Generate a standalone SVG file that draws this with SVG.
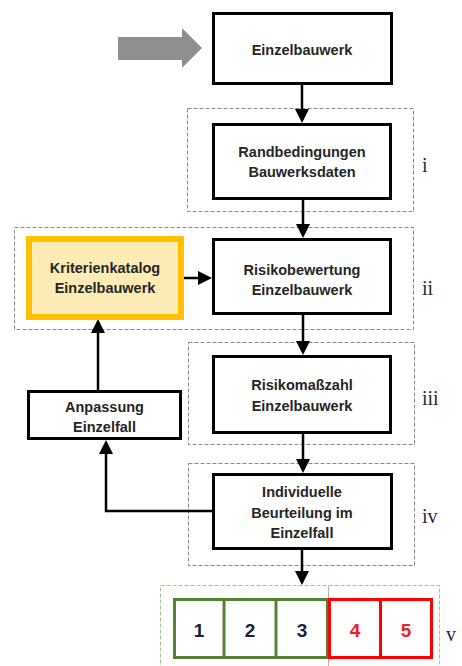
<svg xmlns="http://www.w3.org/2000/svg" width="462" height="666" viewBox="0 0 462 666">
<style>
.box{fill:#fff;stroke:#000;stroke-width:3}
.grp{fill:none;stroke:#8a8a8a;stroke-width:1;stroke-dasharray:4 2}
.t{font-family:"Liberation Sans",Arial,sans-serif;font-weight:bold;font-size:14.5px;fill:#262626;text-anchor:middle}
.num{font-family:"Liberation Sans",Arial,sans-serif;font-weight:bold;font-size:19px;text-anchor:middle}
.rom{font-family:"Liberation Serif","Times New Roman",serif;font-size:20px;fill:#2a2a3a}
.con{fill:none;stroke:#000;stroke-width:2.5}
</style>
<defs>
<marker id="ah" viewBox="0 0 14 14" refX="11" refY="7" markerWidth="14" markerHeight="14" markerUnits="userSpaceOnUse" orient="auto">
<path d="M0,0 L14,7 L0,14 z" fill="#000"/>
</marker>
</defs>
<g id="groups">
<rect class="grp" x="187.5" y="108.5" width="226" height="103"/>
<rect class="grp" x="14.5" y="227.5" width="399" height="102"/>
<rect class="grp" x="188.5" y="342.5" width="226" height="102"/>
<rect class="grp" x="188.5" y="463.5" width="226" height="102"/>
<rect x="160.5" y="585.5" width="168" height="90" fill="none" stroke="#a3c193" stroke-width="1" stroke-dasharray="4 2"/>
<rect x="328.5" y="585.5" width="111" height="90" fill="none" stroke="#f29a9a" stroke-width="1" stroke-dasharray="4 2"/>
</g>
<g id="input-arrow">
<polygon points="118,37 182,37 182,28 202,48 182,68 182,60 118,60" fill="#8f8f8f"/>
</g>
<g id="connectors">
<line class="con" x1="302" y1="85" x2="302" y2="120" marker-end="url(#ah)"/>
<line class="con" x1="303" y1="200" x2="303" y2="235" marker-end="url(#ah)"/>
<line class="con" x1="303" y1="315" x2="303" y2="352" marker-end="url(#ah)"/>
<line class="con" x1="303" y1="434" x2="303" y2="470" marker-end="url(#ah)"/>
<line class="con" x1="302" y1="550" x2="302" y2="582" marker-end="url(#ah)"/>
<line class="con" x1="184" y1="278" x2="209" y2="278" marker-end="url(#ah)"/>
<line class="con" x1="98" y1="390" x2="98" y2="322" marker-end="url(#ah)"/>
<polyline class="con" points="212,511 106,511 106,443" marker-end="url(#ah)"/>
</g>
<g id="einzelbauwerk">
<rect class="box" x="213.5" y="13.5" width="178" height="70"/>
<text class="t" x="302" y="55">Einzelbauwerk</text>
</g>
<g id="randbedingungen">
<rect class="box" x="213.5" y="124.5" width="177" height="74"/>
<text class="t" x="302" y="157">Randbedingungen</text>
<text class="t" x="302" y="177">Bauwerksdaten</text>
</g>
<g id="kriterienkatalog">
<rect x="29" y="239" width="152" height="78" fill="#fdebb5" stroke="#ffc000" stroke-width="6"/>
<text class="t" x="105" y="273">Kriterienkatalog</text>
<text class="t" x="105" y="293">Einzelbauwerk</text>
</g>
<g id="risikobewertung">
<rect class="box" x="213.5" y="239.5" width="177" height="74"/>
<text class="t" x="302" y="275">Risikobewertung</text>
<text class="t" x="302" y="295">Einzelbauwerk</text>
</g>
<g id="risikomasszahl">
<rect class="box" x="213.5" y="356.5" width="177" height="76"/>
<text class="t" x="302" y="390">Risikomaßzahl</text>
<text class="t" x="302" y="411">Einzelbauwerk</text>
</g>
<g id="anpassung">
<rect class="box" x="28.5" y="391.5" width="152" height="47"/>
<text class="t" x="104.5" y="412">Anpassung</text>
<text class="t" x="104.5" y="432">Einzelfall</text>
</g>
<g id="individuelle">
<rect class="box" x="213.5" y="474.5" width="178" height="74"/>
<text class="t" x="302" y="497">Individuelle</text>
<text class="t" x="302" y="518">Beurteilung im</text>
<text class="t" x="302" y="538">Einzelfall</text>
</g>
<g id="scale">
<rect x="174.5" y="599.5" width="153" height="58" fill="#fff" stroke="#548235" stroke-width="3"/>
<line x1="224" y1="599.5" x2="224" y2="657.5" stroke="#548235" stroke-width="3"/>
<line x1="276" y1="599.5" x2="276" y2="657.5" stroke="#548235" stroke-width="3"/>
<rect x="329.5" y="599.5" width="102" height="58" fill="#fff" stroke="#ff0000" stroke-width="3"/>
<line x1="380.5" y1="599.5" x2="380.5" y2="657.5" stroke="#ff0000" stroke-width="3"/>
<text class="num" x="199" y="637" fill="#1f1f3a">1</text>
<text class="num" x="250" y="637" fill="#1f1f3a">2</text>
<text class="num" x="302" y="637" fill="#1f1f3a">3</text>
<text class="num" x="355" y="637" fill="#f02020">4</text>
<text class="num" x="406" y="637" fill="#f02020">5</text>
</g>
<g id="labels">
<text class="rom" x="422" y="172">i</text>
<text class="rom" x="422" y="295">ii</text>
<text class="rom" x="422" y="405">iii</text>
<text class="rom" x="422" y="523">iv</text>
<text class="rom" x="446" y="641">v</text>
</g>
</svg>
